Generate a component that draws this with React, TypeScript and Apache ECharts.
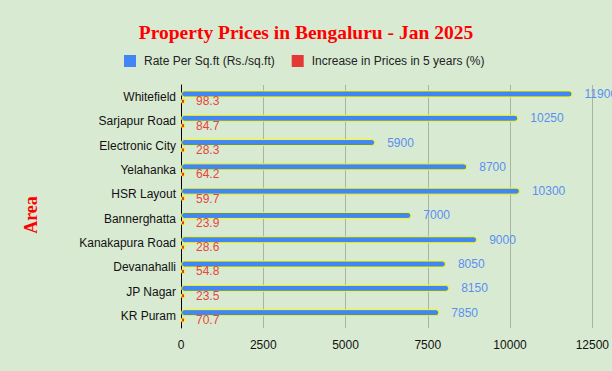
import React, { useEffect, useRef } from "react";
import * as echarts from "echarts";

const areas = [
  "Whitefield",
  "Sarjapur Road",
  "Electronic City",
  "Yelahanka",
  "HSR Layout",
  "Bannerghatta",
  "Kanakapura Road",
  "Devanahalli",
  "JP Nagar",
  "KR Puram",
];
const ratePerSqft = [11900, 10250, 5900, 8700, 10300, 7000, 9000, 8050, 8150, 7850];
const increasePct = [98.3, 84.7, 28.3, 64.2, 59.7, 23.9, 28.6, 54.8, 23.5, 70.7];
const seriesNames = ["Rate Per Sq.ft (Rs./sq.ft)", "Increase in Prices in 5 years (%)"];
const xTicks = { min: 0, max: 12500, interval: 2500 };

export default function App() {
  const ref = useRef<HTMLDivElement>(null);
  useEffect(() => {
    if (!ref.current) return;
    const chart = echarts.init(ref.current, undefined, { renderer: "svg" });
    chart.setOption({
      animation: false,
      backgroundColor: "#d9ead3",
      title: {
        text: "Property Prices in Bengaluru - Jan 2025",
        left: "center",
        top: 17,
        textStyle: {
          fontFamily: "Liberation Serif",
          fontWeight: "bold",
          fontSize: 19.5,
          color: "#ff0000",
        },
      },
      legend: {
        left: 124,
        top: 55,
        padding: 0,
        itemWidth: 12,
        itemHeight: 12,
        itemGap: 17,
        icon: "rect",
        itemStyle: { borderWidth: 0 },
        textStyle: {
          fontFamily: "Liberation Sans",
          fontSize: 12,
          color: "#222",
          padding: [0, 0, 0, 3],
        },
        data: seriesNames,
      },
      graphic: [
        {
          type: "text",
          x: 31,
          y: 215,
          rotation: Math.PI / 2,
          style: {
            text: "Area",
            fontFamily: "Liberation Serif",
            fontWeight: "bold",
            fontSize: 18,
            fill: "#ff0000",
            textAlign: "center",
            textVerticalAlign: "middle",
          },
        },
      ],
      grid: { left: 181, right: 19, top: 85, bottom: 43, containLabel: false },
      xAxis: {
        type: "value",
        min: xTicks.min,
        max: xTicks.max,
        interval: xTicks.interval,
        axisLine: { show: false },
        axisTick: { show: false },
        splitLine: { show: true, lineStyle: { color: "#a9b4a2", width: 1 } },
        axisLabel: {
          fontFamily: "Liberation Sans",
          fontSize: 12,
          color: "#111",
          margin: 11,
          formatter: (v: number) => String(v),
        },
      },
      yAxis: {
        type: "category",
        data: areas,
        inverse: true,
        axisLine: { show: true, lineStyle: { color: "#000", width: 1 } },
        axisTick: { show: false },
        splitLine: { show: false },
        axisLabel: {
          fontFamily: "Liberation Sans",
          fontSize: 12,
          color: "#111",
          margin: 5,
        },
      },
      series: [
        {
          name: seriesNames[0],
          type: "bar",
          data: ratePerSqft,
          barWidth: 7,
          barGap: "20%",
          itemStyle: {
            color: "#4285f4",
            borderColor: "#ffff00",
            borderWidth: 1,
            borderRadius: 3,
          },
          label: {
            show: true,
            position: "right",
            distance: 12,
            fontFamily: "Liberation Sans",
            fontSize: 12,
            color: "#5a8ff0",
          },
        },
        {
          name: seriesNames[1],
          type: "bar",
          data: increasePct,
          barWidth: 5,
          barMinHeight: 4,
          itemStyle: {
            color: "#e53935",
            borderColor: "#ffff00",
            borderWidth: 1,
            borderRadius: 1,
          },
          label: {
            show: true,
            position: "right",
            distance: 11,
            fontFamily: "Liberation Sans",
            fontSize: 12,
            color: "#e8453c",
          },
        },
      ],
    });
    return () => chart.dispose();
  }, []);
  return (
    <div
      ref={ref}
      style={{ position: "fixed", left: 0, top: 0, width: 612, height: 371 }}
    />
  );
}
